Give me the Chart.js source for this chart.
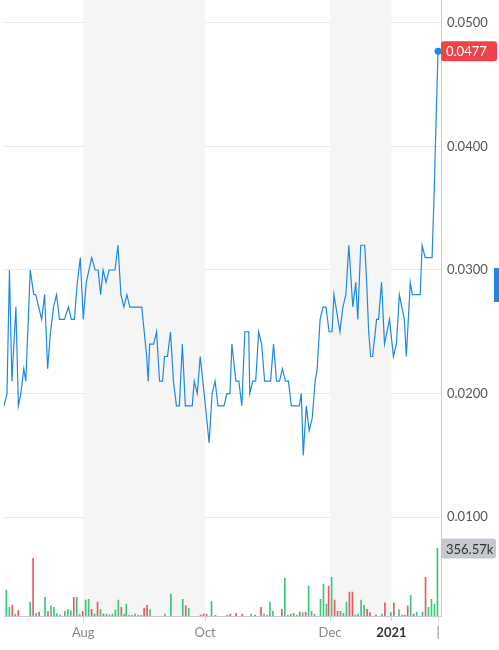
<!DOCTYPE html>
<html><head><meta charset="utf-8">
<script src="https://cdn.jsdelivr.net/npm/chart.js@4/dist/chart.umd.min.js"></script>
<style>html,body{margin:0;padding:0;background:#fff}#w{width:499px;height:650px}</style>
</head><body><div id="w"><canvas id="c"></canvas></div>
<script>
// day offsets (from ~June 20, 2020) and closing prices
const priceDays = [0,1.5,2.75,4,6,7.25,8.5,10,11,13.25,
 15,16,19,20.5,22,23.5,25,26.5,28,30.5,
 32.5,34,35.5,37,38.5,40,41.5,44.25,46,47.5,
 48.75,50,51.5,53,56,57.5,59,60.5,62,63.5,
 69.5,72,72.75,73.5,75.5,77,78.5,80,81,82.5,
 84,85.5,87,88.5,90,91.5,95,96,97.5,99,
 101,103.5,105,106.5,108,111,112.5,114,115,117,
 118.5,120,121.5,123.5,124,125.5,127,128.5,130,131.5,
 134.5,136,137.5,139,140.5,142,143.5,145,149,150,
 151,152.5,154,155.5,157,158,159.5,161,162.5,164,
 165.5,166.5,168.5,169.5,171,172.5,174,176,177.5,178.5,
 180,182,183,184,185,186,188,189,190.5,192,
 194.5,196.5,198,199.5,202,203,205,206,210,211,
 212.5,216,217,218,219];
const priceValues = [.019,.020,.030,.021,.027,.019,.020,.022,.021,.030,
 .028,.028,.026,.028,.022,.025,.027,.028,.026,.026,
 .027,.026,.026,.029,.031,.026,.029,.031,.030,.030,
 .028,.030,.029,.030,.030,.032,.028,.027,.028,.027,
 .027,.023,.021,.024,.024,.025,.021,.021,.023,.023,
 .025,.021,.019,.019,.024,.019,.019,.021,.020,.023,
 .020,.016,.020,.021,.019,.019,.020,.020,.024,.021,
 .021,.019,.025,.025,.020,.021,.021,.025,.024,.021,
 .021,.024,.021,.021,.022,.021,.021,.019,.019,.020,
 .015,.019,.017,.018,.021,.022,.026,.027,.027,.025,
 .025,.028,.026,.025,.027,.028,.032,.027,.029,.026,
 .032,.032,.029,.025,.023,.023,.026,.026,.029,.024,
 .026,.023,.024,.028,.026,.023,.029,.028,.028,.032,
 .031,.031,.036,.042,.0477];
// volume (thousands)
const volDays = [1.2,2.7,4.2,5.7,7.2,13.2,14.7,16.2,17.7,20.7,22.2,23.7,25.2,26.7,28.2,30.7,32.2,33.7,35.2,36.7,
 38.2,39.7,41.2,42.7,44.2,45.7,47.2,48.7,50.2,51.7,53.2,54.7,56.2,57.7,59.2,60.7,61.7,63.2,64.7,66.2,
 67.7,69.2,70.7,72.2,73.7,81.2,84.2,90.2,91.7,93.2,99.2,100.7,102.2,104.7,106.7,112.7,114.2,117.2,120.2,124.7,
 126.7,129.7,131.2,132.7,134.2,135.7,140.2,141.7,143.2,144.7,146.2,147.7,149.2,150.7,152.2,153.7,155.2,156.7,159.7,161.2,
 162.7,163.8,165.3,166.8,168.3,169.8,171.3,172.8,174.3,175.8,177.3,178.7,180.2,181.7,183.2,184.7,187.7,190.7,192.2,195.2,
 196.7,199.3,201,202.3,203.7,205.2,206.7,208.2,211.2,212.7,214.2,215.7,217.2,218.7];
const volValues = [137,46,58,10,28,74,304,14,21,98,25,53,46,11,5,25,35,28,98,98,
 10,25,84,88,35,10,74,35,10,10,5,10,32,84,46,10,63,5,3,10,
 5,3,42,56,32,10,116,88,53,40,5,10,10,77,3,5,10,14,10,10,
 5,46,10,5,74,25,35,199,5,10,14,5,21,18,21,158,25,10,88,169,
 63,158,204,84,25,25,14,74,126,126,5,10,84,56,35,18,5,10,70,18,
 70,32,5,5,53,109,10,21,21,204,46,88,63,356.57];
const volDir = "ggrgrgrgrgrgggggggrggrggrgrgrgggggrggggg"+"ggrrggggrgrrrgggrrrg"+"rrggggrgggggrgrggggg"+"grgrrgggrrggggrrrgrg"+"rgrgrgrggrgggg";
const tickDays = [40,101.5,164.5,195.5,219];
const tickLabels = ["Aug","Oct","Dec","2021","|"];
const priceTicks = [0.01,0.02,0.03,0.04,0.05];
const bands = [[40,101.5],[164.5,195.5]];

const bandPlugin = {id:'bands',beforeDatasetsDraw(ch){const x=ch.scales.x,a=ch.chartArea,c=ch.ctx;c.save();c.fillStyle='#f5f5f5';
 bands.forEach(b=>{const l=x.getPixelForValue(b[0]),r=x.getPixelForValue(b[1]);c.fillRect(l,0,r-l,a.bottom);});c.restore();}};
const tagPlugin = {id:'tags',afterDraw(ch){const c=ch.ctx,a=ch.chartArea,y=ch.scales.y,yv=ch.scales.yv;
 const lp=priceValues[priceValues.length-1],lv=volValues[volValues.length-1];
 function tag(py,txt,bg,fg,w){c.fillStyle=bg;c.beginPath();c.roundRect(a.right,py-10,w,20,3);c.fill();
  c.fillStyle=fg;c.font='13px Lato';c.textAlign='left';c.textBaseline='middle';c.fillText(txt,a.right+5,py+1);}
 tag(y.getPixelForValue(lp),lp.toFixed(4),'#f0424a','#fff',56);
 tag(yv.getPixelForValue(lv),lv.toFixed(2)+'k','#c5c8cf','#333',55);
 c.fillStyle='#1e88e5';c.fillRect(494,268,5,34);
 c.strokeStyle='#ccc';c.lineWidth=1;c.beginPath();c.moveTo(a.right+0.5,0);c.lineTo(a.right+0.5,a.top);c.stroke();}};

new Chart(document.getElementById('c'),{
 data:{datasets:[
  {type:'line',data:priceDays.map((d,i)=>({x:d,y:priceValues[i]})),borderColor:'#1e88e5',borderWidth:1.2,tension:0,
   pointRadius:ctx=>ctx.dataIndex===priceValues.length-1?3.5:0,pointBackgroundColor:'#1e88e5',pointBorderWidth:0,yAxisID:'y',order:1},
  {type:'bar',data:volDays.map((d,i)=>({x:d,y:volValues[i]})),backgroundColor:volDir.split('').map(s=>s==='g'?'#3cc57c':'#f0565b'),
   barThickness:1,yAxisID:'yv',order:2}
 ]},
 options:{responsive:true,maintainAspectRatio:false,animation:false,layout:{padding:0},
  plugins:{legend:{display:false},tooltip:{enabled:false}},
  scales:{
   x:{type:'linear',offset:false,min:0,max:220.5,afterBuildTicks:s=>{s.ticks=tickDays.map(v=>({value:v}));},
    afterFit:s=>{s.height=34;},
    ticks:{callback:(v,i)=>tickLabels[i],color:ctx=>ctx.index===3?'#333':'#888',maxRotation:0,autoSkip:false,padding:4,
     font:ctx=>({family:'Lato',size:13,weight:ctx.index===3?'bold':'normal'})},
    grid:{offset:false,drawOnChartArea:false,tickLength:5,color:'#ccc'},border:{color:'#ccc'}},
   y:{position:'right',min:0.0020,max:0.05073,afterBuildTicks:s=>{s.ticks=priceTicks.map(v=>({value:v}));},
    afterFit:s=>{s.width=58;},
    ticks:{callback:v=>v.toFixed(4),color:'#555',font:{family:'Lato',size:13},padding:6},
    grid:{color:'#e8e8e8',drawTicks:false},border:{color:'#ccc'}},
   yv:{display:false,min:0,max:3176}
  }},
 plugins:[bandPlugin,tagPlugin]
});
</script></body></html>
